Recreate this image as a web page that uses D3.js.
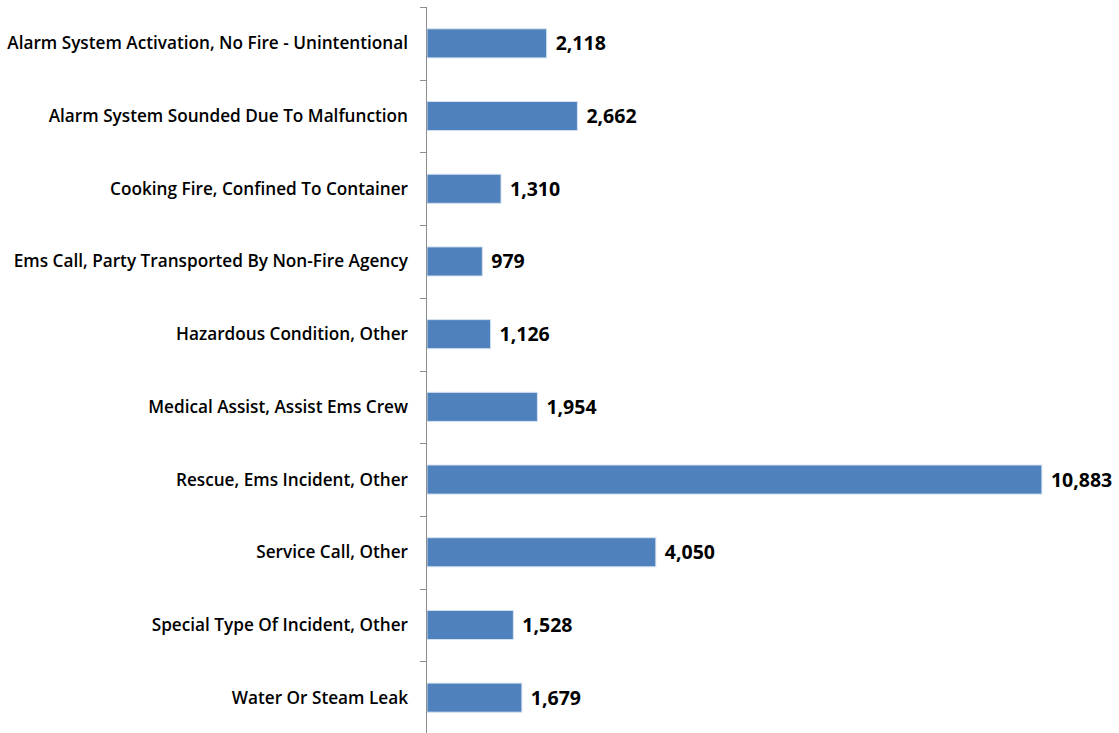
<!DOCTYPE html>
<html><head><meta charset="utf-8">
<script src="https://cdn.jsdelivr.net/npm/d3@7"></script>
<style>body{margin:0;background:#fff}svg{display:block}</style>
</head><body><svg id="c" width="1119" height="733"></svg>
<script>
const categories = ["Alarm System Activation, No Fire - Unintentional","Alarm System Sounded Due To Malfunction","Cooking Fire, Confined To Container","Ems Call, Party Transported By Non-Fire Agency","Hazardous Condition, Other","Medical Assist, Assist Ems Crew","Rescue, Ems Incident, Other","Service Call, Other","Special Type Of Incident, Other","Water Or Steam Leak"];
const values = [2118,2662,1310,979,1126,1954,10883,4050,1528,1679];

const svg = d3.select("#c");
const x = d3.scaleLinear().domain([0,12000]).range([427,1105]);
const y = d3.scaleBand().domain(categories).range([7,734]).paddingInner(0.6).paddingOuter(0.3);
const font = "'Open Sans', sans-serif";

svg.selectAll("rect.bar").data(categories).join("rect")
  .attr("x", x(0)).attr("y", d=>y(d))
  .attr("width", (d,i)=>x(values[i])-x(0)).attr("height", y.bandwidth())
  .attr("fill","#4F81BD").attr("stroke","#D6E2F0").attr("stroke-width",1);

const step = y.step();
const bounds = d3.range(categories.length+1).map(i => 7 + i*step);
svg.append("line").attr("x1",426.5).attr("x2",426.5).attr("y1",7).attr("y2",733).attr("stroke","#8C8C8C");
svg.selectAll("line.tk").data(bounds).join("line").attr("class","tk")
  .attr("x1",420).attr("x2",426.5).attr("y1",d=>Math.round(d)+0.5).attr("y2",d=>Math.round(d)+0.5).attr("stroke","#8C8C8C");

svg.selectAll("text.cat").data(categories).join("text").attr("class","cat")
  .attr("x",408).attr("y",d=>y(d)+y.bandwidth()/2).attr("dy","0.35em")
  .attr("text-anchor","end").attr("font-family",font).attr("font-weight",600).attr("font-size",17.2)
  .attr("fill","#000").text(d=>d);

svg.selectAll("text.val").data(categories).join("text").attr("class","val")
  .attr("x",(d,i)=>x(values[i])+9).attr("y",d=>y(d)+y.bandwidth()/2).attr("dy","0.36em")
  .attr("font-family",font).attr("font-weight","bold").attr("font-size",19.5)
  .attr("fill","#000").text((d,i)=>d3.format(",")(values[i]));
</script></body></html>
